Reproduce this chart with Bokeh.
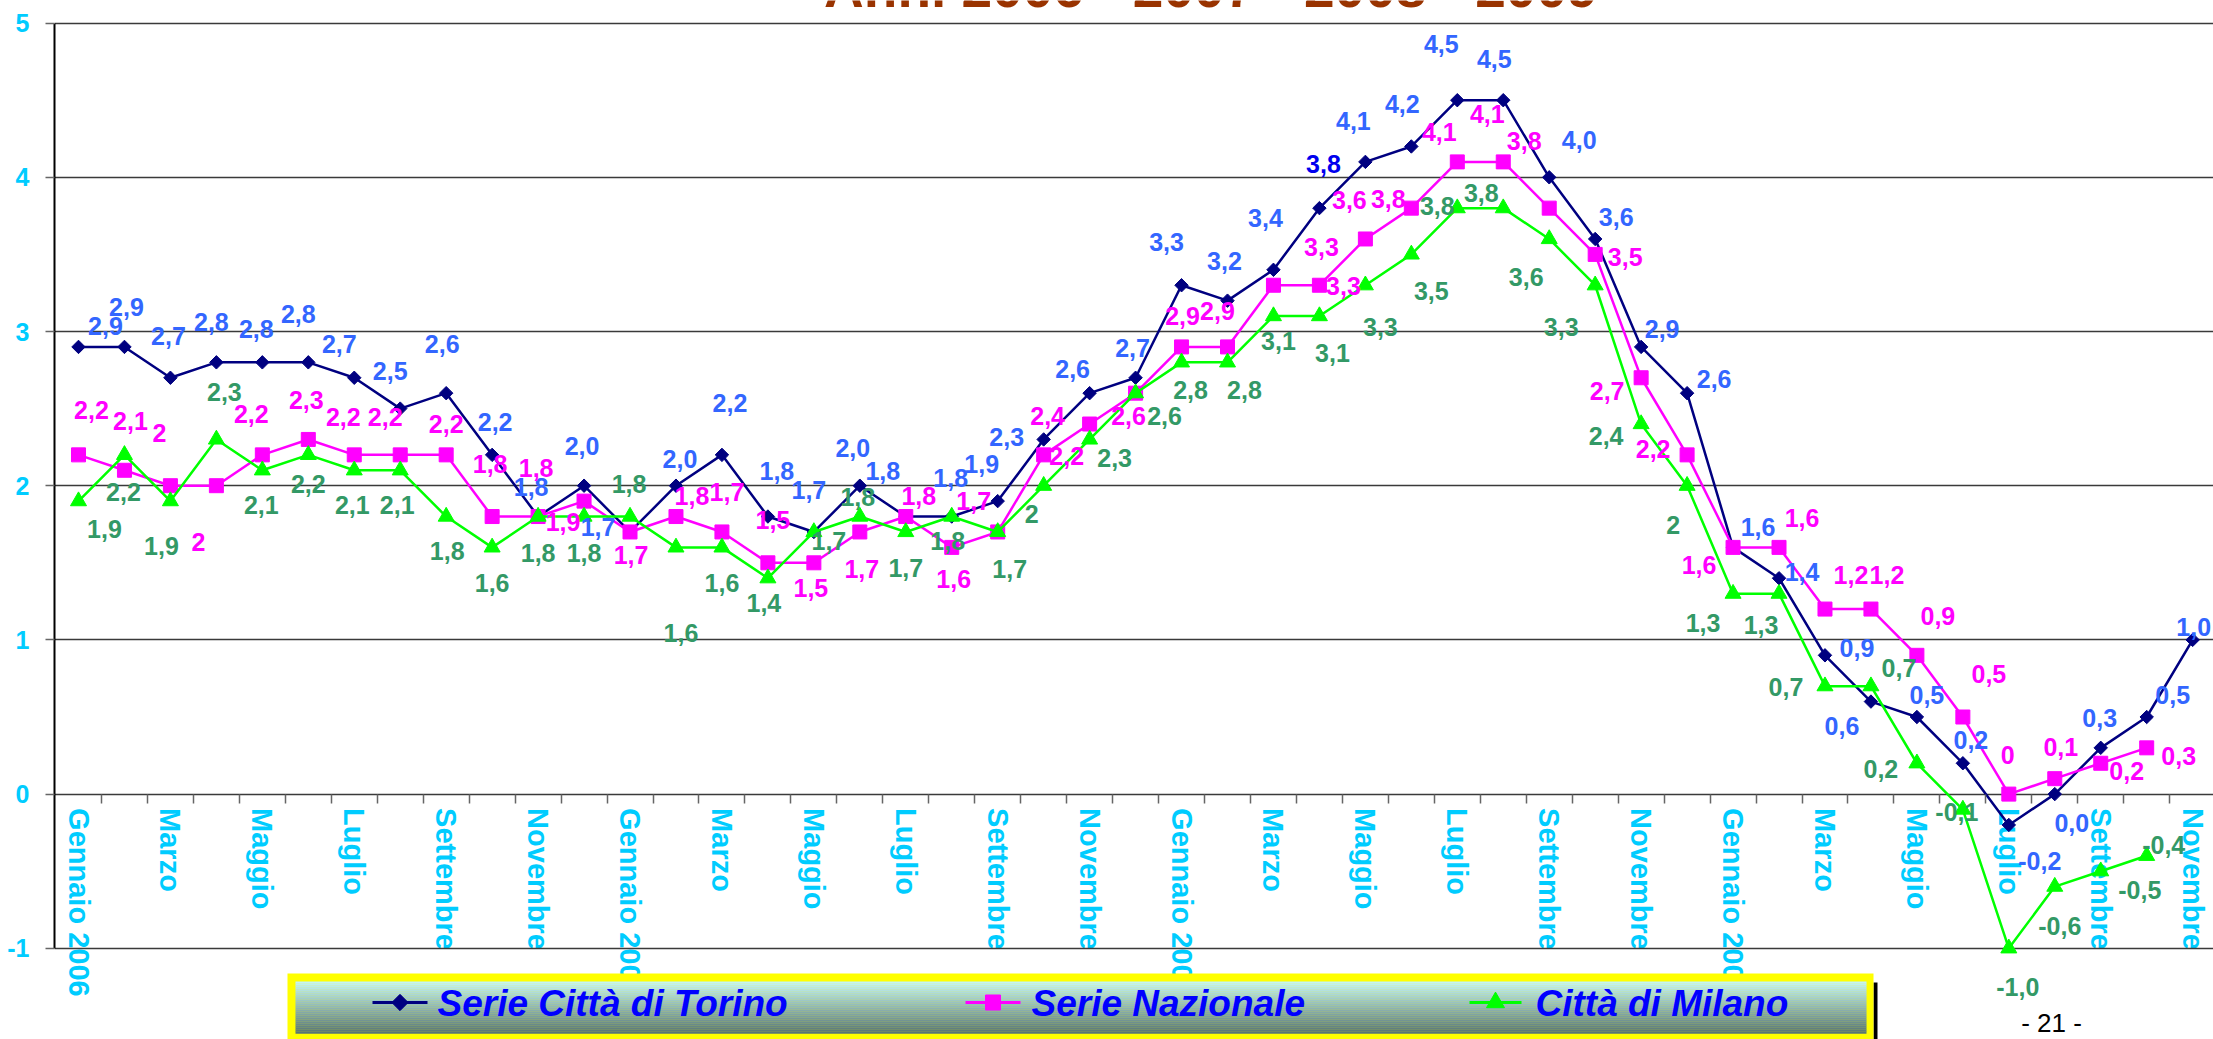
import math
from bokeh.plotting import figure
from bokeh.models import ColumnDataSource, FixedTicker, LinearAxis, Range1d
from bokeh.core.properties import value
from bokeh.embed import file_html
from bokeh.resources import INLINE

# ---------------- data ----------------
mesi = ["Gennaio 2006", "Febbraio", "Marzo", "Aprile", "Maggio", "Giugno",
        "Luglio", "Agosto", "Settembre", "Ottobre", "Novembre", "Dicembre",
        "Gennaio 2007", "Febbraio", "Marzo", "Aprile", "Maggio", "Giugno",
        "Luglio", "Agosto", "Settembre", "Ottobre", "Novembre", "Dicembre",
        "Gennaio 2008", "Febbraio", "Marzo", "Aprile", "Maggio", "Giugno",
        "Luglio", "Agosto", "Settembre", "Ottobre", "Novembre", "Dicembre",
        "Gennaio 2009", "Febbraio", "Marzo", "Aprile", "Maggio", "Giugno",
        "Luglio", "Agosto", "Settembre", "Ottobre", "Novembre"]

torino = [2.9, 2.9, 2.7, 2.8, 2.8, 2.8, 2.7, 2.5, 2.6, 2.2, 1.8, 2.0,
          1.7, 2.0, 2.2, 1.8, 1.7, 2.0, 1.8, 1.8, 1.9, 2.3, 2.6, 2.7,
          3.3, 3.2, 3.4, 3.8, 4.1, 4.2, 4.5, 4.5, 4.0, 3.6, 2.9, 2.6,
          1.6, 1.4, 0.9, 0.6, 0.5, 0.2, -0.2, 0.0, 0.3, 0.5, 1.0]

nazionale = [2.2, 2.1, 2.0, 2.0, 2.2, 2.3, 2.2, 2.2, 2.2, 1.8, 1.8, 1.9,
             1.7, 1.8, 1.7, 1.5, 1.5, 1.7, 1.8, 1.6, 1.7, 2.2, 2.4, 2.6,
             2.9, 2.9, 3.3, 3.3, 3.6, 3.8, 4.1, 4.1, 3.8, 3.5, 2.7, 2.2,
             1.6, 1.6, 1.2, 1.2, 0.9, 0.5, 0.0, 0.1, 0.2, 0.3]

milano = [1.9, 2.2, 1.9, 2.3, 2.1, 2.2, 2.1, 2.1, 1.8, 1.6, 1.8, 1.8,
          1.8, 1.6, 1.6, 1.4, 1.7, 1.8, 1.7, 1.8, 1.7, 2.0, 2.3, 2.6,
          2.8, 2.8, 3.1, 3.1, 3.3, 3.5, 3.8, 3.8, 3.6, 3.3, 2.4, 2.0,
          1.3, 1.3, 0.7, 0.7, 0.2, -0.1, -1.0, -0.6, -0.5, -0.4]

serie_nomi = ["Serie  Città di Torino", "Serie Nazionale", "Città di Milano"]
titolo = "Anni  2006 - 2007 - 2008 - 2009"
y_ticks = [-1, 0, 1, 2, 3, 4, 5]

# label placement (pixel offsets of each data label from its point)
tor_dx = [27, 2, -2, -5, -6, -10, -15, -10, -4, 3, -7, -2, -32, 4, 8, 9, -5, -7, -23, -1,
          -16, -37, -17, -3, -15, -3, -8, 4, -12, -9, -16, -9, 30, 21, 21, 27, 25, 23, 32, -29,
          10, 8, 31, 17, -1, 26, 1]
tor_dy = [-21, -40, -42, -40, -33, -48, -34, -38, -49, -33, -30, -40, -5, -27, -52, -46, -42, -38, -46, -39,
          -37, -2, -24, -30, -43, -40, -52, -44, -41, -42, -56, -41, -37, -22, -18, -14, -20, -6, -7, 24,
          -22, -23, 36, 29, -30, -22, -13]
naz_dx = [13, 6, -11, -18, -11, -2, -11, -15, 0, -2, -2, -21, 1, 16, 5, 5, -3, 2, 13, 2,
          -24, 23, -42, -7, 1, -10, 48, 24, -16, -23, -18, -16, -25, 30, -34, -34, -34, 23, 26, 16,
          21, 26, -1, 6, 26, 32]
naz_dy = [-45, -49, -53, 56, -41, -39, -38, -38, -31, -53, -49, 21, 23, -21, -40, -43, 25, 37, -21, 32,
          -31, 1, -8, 23, -31, -36, -38, 1, -39, -9, -30, -48, -67, 3, 13, -6, 18, -29, -34, -34,
          -39, -43, -39, -32, 8, 8]
mil_dx = [26, -1, -9, 8, -1, 0, -2, -3, 1, 0, 0, 0, -1, 5, 0, -4, 15, -2, 0, -4,
          12, -12, 25, 29, 9, 17, 5, 13, 15, 20, -20, -22, -23, -34, -35, -14, -30, -18, -39, 28,
          -36, -6, 9, 5, 39, 17]
mil_dy = [28, 37, 45, -47, 35, 29, 35, 35, 34, 36, 36, 36, -33, 86, 36, 25, 9, -20, 36, 24,
          37, 28, 19, 23, 28, 28, 25, 37, 42, 37, -2, -15, 38, 42, 12, 39, 29, 31, 1, -18,
          6, 2, 39, 39, 19, -11]


def fmt_fixed(v):
    return f"{v:.1f}".replace(".", ",")


def fmt_general(v):
    return f"{v:g}".replace(".", ",")


tor_text = [fmt_fixed(v) for v in torino]
naz_text = [fmt_general(v) for v in nazionale]
mil_text = [fmt_general(v) for v in milano]
mil_text[42] = fmt_fixed(milano[42])

tor_lab_col = ["#3366FF"] * len(torino)
tor_lab_col[27] = "#0000EE"

# ---------------- geometry (canvas pixels) ----------------
W, H = 2213, 1039
FRAME_L = 54
SX = 45.96           # px per month
SY = 154.2           # px per unit
X_START = (FRAME_L - 78) / SX
X_END = X_START + (W - FRAME_L) / SX
Y_END = 5 + 22.6 / SY
Y_START = Y_END - H / SY


def xd(px):
    return X_START + (px - FRAME_L) / SX


def yd(py):
    return Y_END - py / SY


FONT = value("Liberation Sans")
CYAN = "#00CCFF"

p = figure(width=W, height=H, output_backend="svg", toolbar_location=None, title=None,
           x_range=Range1d(X_START, X_END), y_range=Range1d(Y_START, Y_END),
           x_axis_location=None, min_border_left=FRAME_L, min_border_right=0,
           min_border_top=0, min_border_bottom=0, outline_line_color=None,
           background_fill_color="white", border_fill_color="white")
p.xgrid.visible = False

# y axis
ya = p.yaxis[0]
ya.ticker = FixedTicker(ticks=y_ticks)
ya.bounds = (-1, 5)
ya.axis_line_color = "black"
ya.axis_line_width = 2
ya.major_tick_out = 9
ya.major_tick_in = 0
ya.major_tick_line_color = "#666666"
ya.major_tick_line_width = 1.5
ya.minor_tick_out = 0
ya.minor_tick_in = 0
ya.major_label_standoff = 16
ya.major_label_text_font = "Liberation Sans"
ya.major_label_text_font_size = "25px"
ya.major_label_text_font_style = "bold"
ya.major_label_text_color = CYAN
ya.major_label_overrides = {t: str(t) for t in y_ticks}

p.ygrid.ticker = FixedTicker(ticks=y_ticks)
p.ygrid.grid_line_color = "#3a3a3a"
p.ygrid.grid_line_width = 1.5

# x axis at y = 0: tick marks between months
xt = LinearAxis(ticker=FixedTicker(ticks=[i + 0.5 for i in range(len(mesi) - 1)]),
                fixed_location=0, axis_line_color=None,
                major_tick_out=9, major_tick_in=0, major_tick_line_color="#666666",
                major_tick_line_width=1.5, minor_tick_out=0, minor_tick_in=0,
                major_label_overrides={i + 0.5: "" for i in range(len(mesi) - 1)})
p.add_layout(xt, "below")

# x axis at y = 0: month labels every two months
lab_ticks = list(range(0, len(mesi), 2))
xl = LinearAxis(ticker=FixedTicker(ticks=lab_ticks), fixed_location=0,
                axis_line_color=None, major_tick_out=0, major_tick_in=0,
                minor_tick_out=0, minor_tick_in=0,
                major_label_orientation="vertical", major_label_standoff=14,
                major_label_overrides={i: mesi[i] for i in lab_ticks},
                major_label_text_font="Liberation Sans",
                major_label_text_font_size="29px",
                major_label_text_font_style="bold",
                major_label_text_color=CYAN, level="underlay")
p.add_layout(xl, "below")

# title (cut by the top edge, as in the reference)
p.text(x=[xd(1218)], y=[yd(-13)], text=[titolo], text_font=FONT, text_font_size="55px",
       text_font_style="bold", text_color="#993300", text_align="center",
       text_baseline="middle")

# ---------------- series ----------------
idx_t = list(range(len(torino)))
idx_n = list(range(len(nazionale)))
idx_m = list(range(len(milano)))

NAVY, MAG, GREEN = "#000080", "#FF00FF", "#00FF00"

p.line(idx_t, torino, line_color=NAVY, line_width=2.5)
p.scatter(idx_t, torino, marker="square", size=9.5, angle=math.pi / 4,
          fill_color=NAVY, line_color=NAVY)
p.line(idx_n, nazionale, line_color=MAG, line_width=2.5)
p.scatter(idx_n, nazionale, marker="square", size=14, fill_color=MAG, line_color=MAG)
p.line(idx_m, milano, line_color=GREEN, line_width=2.5)
p.scatter(idx_m, milano, marker="triangle", size=16, fill_color=GREEN, line_color=GREEN)

# data labels
src_t = ColumnDataSource(dict(x=idx_t, y=torino, t=tor_text, dx=tor_dx, dy=tor_dy, c=tor_lab_col))
src_n = ColumnDataSource(dict(x=idx_n, y=nazionale, t=naz_text, dx=naz_dx, dy=naz_dy))
src_m = ColumnDataSource(dict(x=idx_m, y=milano, t=mil_text, dx=mil_dx, dy=mil_dy))
lab_kw = dict(text_font=FONT, text_font_size="25px", text_font_style="bold",
              text_align="center", text_baseline="middle")
p.text(x="x", y="y", text="t", x_offset="dx", y_offset="dy", text_color="c", source=src_t, **lab_kw)
p.text(x="x", y="y", text="t", x_offset="dx", y_offset="dy", text_color=MAG, source=src_n, **lab_kw)
p.text(x="x", y="y", text="t", x_offset="dx", y_offset="dy", text_color="#339966", source=src_m, **lab_kw)

# ---------------- legend box ----------------
p.quad(left=[xd(1873)], right=[xd(1877)], top=[yd(982)], bottom=[yd(1045)],
       fill_color="black", line_color=None)
p.quad(left=[xd(287)], right=[xd(1873)], top=[yd(973)], bottom=[yd(1045)],
       fill_color="#FFFF00", line_color=None)
n_strips = 26
c0, c1 = (196, 244, 244), (88, 118, 118)
lefts, rights, tops, bottoms, cols = [], [], [], [], []
for k in range(n_strips):
    f = k / (n_strips - 1)
    rgb = tuple(int(round(a + (b - a) * f)) for a, b in zip(c0, c1))
    lefts.append(xd(295)); rights.append(xd(1866))
    tops.append(yd(981 + 2 * k)); bottoms.append(yd(981 + 2 * k + 2.2))
    cols.append("#%02x%02x%02x" % rgb)
p.quad(left=lefts, right=rights, top=tops, bottom=bottoms, fill_color=cols, line_color=None)

leg_y = yd(1002)
leg = [
    (372, 427, NAVY, dict(marker="square", size=11.5, angle=math.pi / 4), 437),
    (965, 1020, MAG, dict(marker="square", size=15), 1031),
    (1469, 1521, GREEN, dict(marker="triangle", size=18), 1535),
]
for (x0, x1, col, mk, tx), name in zip(leg, serie_nomi):
    p.segment(x0=[xd(x0)], y0=[leg_y], x1=[xd(x1)], y1=[leg_y], line_color=col, line_width=3)
    p.scatter(x=[xd((x0 + x1) / 2)], y=[leg_y], fill_color=col, line_color=col, **mk)
    p.text(x=[xd(tx)], y=[yd(1003)], text=[name], text_font=FONT, text_font_size="37px",
           text_font_style="bold italic", text_color="#0000FF", text_align="left",
           text_baseline="middle")

# page number
p.text(x=[xd(2051)], y=[yd(1022)], text=["- 21 -"], text_font=FONT, text_font_size="26px",
       text_color="black", text_align="center", text_baseline="middle")

open("out.html", "w").write(file_html(p, INLINE))
